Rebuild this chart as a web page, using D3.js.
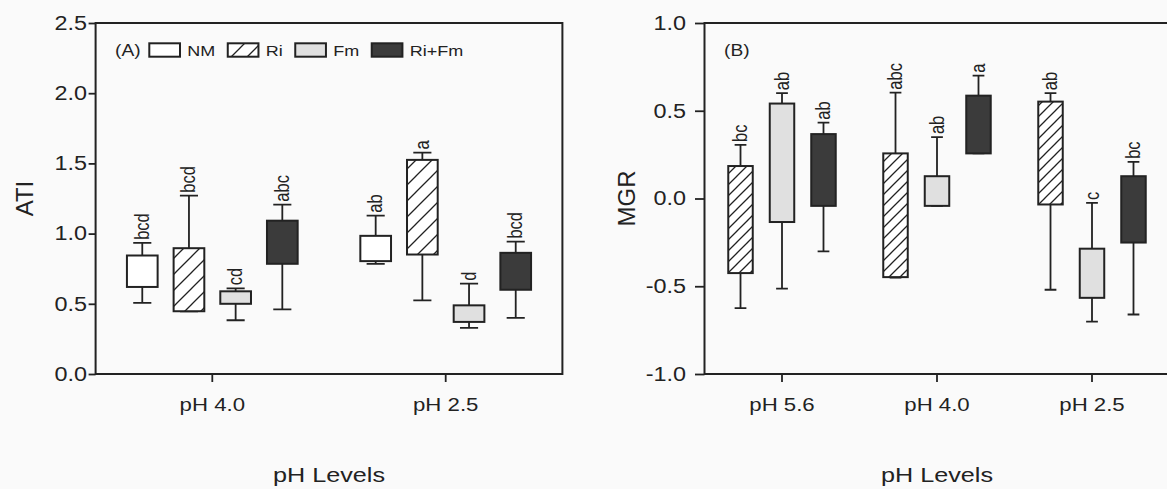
<!DOCTYPE html>
<html>
<head>
<meta charset="utf-8">
<script src="https://cdnjs.cloudflare.com/ajax/libs/d3/7.8.5/d3.min.js"></script>
<style>
  html, body { margin: 0; padding: 0; background: #fafafa; }
  svg { display: block; font-family: "Liberation Sans", Arial, sans-serif; }
</style>
</head>
<body>
<div id="chart"></div>
<script>
//--------------------------------------------------
// Data
//--------------------------------------------------
// Panel A : ATI
const seriesA  = ["NM", "Ri", "Fm", "Ri+Fm"];
const groupsA  = ["pH 4.0", "pH 2.5"];
const atiTicks = [0, 0.5, 1.0, 1.5, 2.0, 2.5];
// one row per pH group, one value per series
const atiBoxHigh  = [[0.844, 0.896, 0.589, 1.092], [0.984, 1.525, 0.489, 0.863]];
const atiBoxLow   = [[0.620, 0.447, 0.500, 0.785], [0.804, 0.851, 0.371, 0.600]];
const atiWhiskHi  = [[0.934, 1.270, 0.610, 1.206], [1.128, 1.577, 0.643, 0.943]];
const atiWhiskLo  = [[0.506, 0.447, 0.383, 0.461], [0.785, 0.525, 0.329, 0.400]];
const atiLetters  = [["bcd", "bcd", "cd", "abc"], ["ab", "a", "d", "bcd"]];

// Panel B : MGR
const seriesB  = ["Ri", "Fm", "Ri+Fm"];
const groupsB  = ["pH 5.6", "pH 4.0", "pH 2.5"];
const mgrTicks = [-1.0, -0.5, 0.0, 0.5, 1.0];
const mgrBoxHigh = [[0.185, 0.541, 0.367], [0.257, 0.127, 0.586], [0.552, -0.286, 0.127]];
const mgrBoxLow  = [[-0.425, -0.134, -0.042], [-0.448, -0.042, 0.257], [-0.034, -0.566, -0.251]];
const mgrWhiskHi = [[0.305, 0.600, 0.432], [0.603, 0.350, 0.700], [0.600, -0.025, 0.209]];
const mgrWhiskLo = [[-0.625, -0.514, -0.301], [-0.450, -0.042, 0.257], [-0.520, -0.701, -0.661]];
const mgrLetters = [["bc", "ab", "ab"], ["abc", "ab", "a"], ["ab", "c", "bc"]];

//--------------------------------------------------
// Style
//--------------------------------------------------
const W = 1167, H = 489;
const INK = "#222";
const SX = 1.2;               // the figure is a bit wide: text stretched horizontally
const FILLS = { "NM": "#ffffff", "Fm": "#e0e0e0", "Ri+Fm": "#3b3b3b" };

const svg = d3.select("#chart").append("svg")
  .attr("width", W)
  .attr("height", H)
  .style("background", "#fafafa");

const defs = svg.append("defs");

function hatch(id, s) {
  const p = defs.append("pattern")
    .attr("id", id)
    .attr("patternUnits", "userSpaceOnUse")
    .attr("width", s)
    .attr("height", s);
  p.append("rect").attr("width", s).attr("height", s).attr("fill", "#fff");
  p.append("path")
    .attr("d", `M0,${s} L${s},0 M${-s / 2},${s / 2} L${s / 2},${-s / 2} M${s / 2},${s * 1.5} L${s * 1.5},${s / 2}`)
    .attr("stroke", INK)
    .attr("stroke-width", 1.3);
}
hatch("hatchA", 16);
hatch("hatchB", 11);

function fillFor(name, hatchId) {
  return name === "Ri" ? `url(#${hatchId})` : FILLS[name];
}

// horizontal text, stretched
function hText(g, x, y, str, size, anchor) {
  return g.append("text")
    .attr("transform", `translate(${x},${y}) scale(${SX},1)`)
    .attr("text-anchor", anchor || "middle")
    .attr("font-size", size)
    .attr("fill", INK)
    .text(str);
}

//--------------------------------------------------
// Panel
//--------------------------------------------------
function panel(o) {
  const g = svg.append("g");

  const x = d3.scaleBand().domain(o.groups).range([o.left, o.right]).padding(0);
  const n = o.series.length;
  const pIn = 1 - o.widthFrac / o.stepFrac;
  const pOut = (1 / o.stepFrac - n + pIn) / 2;
  const xs = d3.scaleBand().domain(o.series)
    .range([0, x.bandwidth()])
    .paddingInner(pIn)
    .paddingOuter(pOut);
  const y = d3.scaleLinear().domain(o.yDomain).range([o.bottom, o.top]);

  // y axis (plain hyphen for negatives, as in the figure)
  const ya = g.append("g")
    .attr("transform", `translate(${o.left},0)`)
    .call(d3.axisLeft(y).tickValues(o.ticks).tickSize(o.tickLen).tickPadding(o.tickPad)
      .tickFormat(d => d.toFixed(1)));
  ya.select(".domain").remove();
  ya.selectAll("line").attr("stroke", INK).attr("stroke-width", 1.8);
  ya.selectAll("text")
    .attr("font-size", 19.5)
    .attr("font-family", "Liberation Sans, Arial, sans-serif")
    .attr("fill", INK)
    .attr("x", -(o.tickLen + o.tickPad) / SX)
    .attr("transform", `scale(${SX},1)`);

  // x axis ticks
  const xa = g.append("g")
    .attr("transform", `translate(0,${o.bottom})`)
    .call(d3.axisBottom(x).tickSize(8).tickFormat(""));
  xa.select(".domain").remove();
  xa.selectAll("line").attr("stroke", INK).attr("stroke-width", 1.8);

  o.groups.forEach(gr => hText(g, x(gr) + x.bandwidth() / 2, 411, gr, 18.5));

  // frame
  g.append("rect")
    .attr("x", o.left).attr("y", o.top)
    .attr("width", o.right - o.left).attr("height", o.bottom - o.top)
    .attr("fill", "none").attr("stroke", INK).attr("stroke-width", 2);

  // bars
  const rows = [];
  o.groups.forEach((gr, gi) => o.series.forEach((s, si) => rows.push({
    gr, s,
    hi: o.boxHigh[gi][si], lo: o.boxLow[gi][si],
    wh: o.whiskHi[gi][si], wl: o.whiskLo[gi][si],
    letter: o.letters[gi][si]
  })));

  const bw = xs.bandwidth();
  const cx = d => x(d.gr) + xs(d.s) + bw / 2;
  const capW = bw * o.capFrac;

  const bars = g.append("g").selectAll("g").data(rows).enter().append("g");

  bars.append("path")
    .attr("d", d => {
      const c = cx(d);
      return `M${c},${y(d.hi)}V${y(d.wh)}M${c - capW / 2},${y(d.wh)}H${c + capW / 2}` +
             `M${c},${y(d.lo)}V${y(d.wl)}M${c - capW / 2},${y(d.wl)}H${c + capW / 2}`;
    })
    .attr("fill", "none")
    .attr("stroke", INK)
    .attr("stroke-width", 1.8);

  bars.append("rect")
    .attr("x", d => cx(d) - bw / 2)
    .attr("y", d => y(d.hi))
    .attr("width", bw)
    .attr("height", d => y(d.lo) - y(d.hi))
    .attr("fill", d => fillFor(d.s, o.hatchId))
    .attr("stroke", INK)
    .attr("stroke-width", 2);

  bars.append("text")
    .attr("transform", d => `translate(${cx(d)},${y(d.wh) - 3}) scale(${SX},1) rotate(-90)`)
    .attr("dominant-baseline", "central")
    .attr("font-size", 16.5)
    .attr("fill", INK)
    .text(d => d.letter);

  // titles
  hText(g, (o.left + o.right) / 2, 481.5, "pH Levels", 21);
  g.append("text")
    .attr("transform", `translate(${o.ytitleX},${(o.top + o.bottom) / 2}) rotate(-90)`)
    .attr("text-anchor", "middle")
    .attr("dominant-baseline", "central")
    .attr("font-size", 24)
    .attr("fill", INK)
    .text(o.ytitle);

  hText(g, o.left + 19.5, 55.5, o.tag, 16, "start");
  return g;
}

panel({
  left: 95.6, right: 562.4, top: 23, bottom: 374,
  groups: groupsA, series: seriesA, yDomain: [0, 2.5], ticks: atiTicks,
  boxHigh: atiBoxHigh, boxLow: atiBoxLow, whiskHi: atiWhiskHi, whiskLo: atiWhiskLo,
  letters: atiLetters,
  stepFrac: 0.2, widthFrac: 0.1315, capFrac: 0.59,
  tickLen: 7, tickPad: 1.5, hatchId: "hatchA",
  ytitle: "ATI", ytitleX: 24.7, tag: "(A)"
});

panel({
  left: 704.5, right: 1169.5, top: 23, bottom: 374,
  groups: groupsB, series: seriesB, yDomain: [-1, 1], ticks: mgrTicks,
  boxHigh: mgrBoxHigh, boxLow: mgrBoxLow, whiskHi: mgrWhiskHi, whiskLo: mgrWhiskLo,
  letters: mgrLetters,
  stepFrac: 0.2677, widthFrac: 0.158, capFrac: 0.48,
  tickLen: 9.5, tickPad: 9, hatchId: "hatchB",
  ytitle: "MGR", ytitleX: 626.8, tag: "(B)"
});

//--------------------------------------------------
// Legend (panel A)
//--------------------------------------------------
const leg = svg.append("g");
let lx = 149.3;
seriesA.forEach(s => {
  leg.append("rect")
    .attr("x", lx).attr("y", 43.3)
    .attr("width", 30.7).attr("height", 13.4)
    .attr("fill", fillFor(s, "hatchA"))
    .attr("stroke", INK).attr("stroke-width", 2);
  const t = hText(leg, lx + 38, 55.5, s, 15, "start");
  lx += 38 + t.node().getComputedTextLength() * SX + 12.5;
});
</script>
</body>
</html>
